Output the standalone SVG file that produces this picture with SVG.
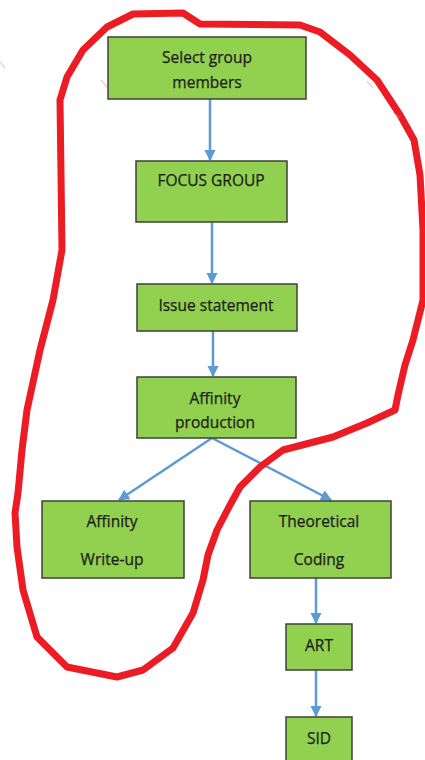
<svg xmlns="http://www.w3.org/2000/svg" width="425" height="760" viewBox="0 0 425 760">
  <style>
    .box { fill: #92d050; stroke: #3f3f3f; stroke-width: 1.5; }
    .lbl { font-family: "Open Sans", "Liberation Sans", sans-serif; font-size: 15.5px; fill: #1c1c1c; stroke: #1c1c1c; stroke-width: 0.25; text-anchor: middle; }
    .conn { stroke: #5b9bd5; stroke-width: 2.5; fill: none; marker-end: url(#arrow); }
    .loop { stroke: #ec1c24; stroke-width: 7; fill: none; stroke-linejoin: round; stroke-linecap: round; }
    .tick { stroke: #f08080; stroke-width: 1; opacity: 0.7; }
  </style>
  <defs>
    <marker id="arrow" viewBox="0 0 10 10" refX="9" refY="5" markerWidth="4.5" markerHeight="4.5" markerUnits="strokeWidth" orient="auto">
      <path d="M0,0 L10,5 L0,10 z" fill="#5b9bd5"/>
    </marker>
  </defs>
  <rect width="425" height="760" fill="#ffffff"/>

  <!-- connectors -->
  <g id="connectors">
    <line class="conn" x1="210" y1="99" x2="210" y2="160"/>
    <line class="conn" x1="212" y1="222" x2="212" y2="283"/>
    <line class="conn" x1="213" y1="331" x2="213" y2="376"/>
    <line class="conn" x1="212" y1="438" x2="119" y2="500"/>
    <line class="conn" x1="212" y1="438" x2="331" y2="500"/>
    <line class="conn" x1="316" y1="578" x2="316" y2="623"/>
    <line class="conn" x1="316" y1="670" x2="316" y2="716"/>
  </g>

  <!-- nodes -->
  <g id="select">
    <rect class="box" x="108" y="37" width="198" height="62"/>
    <text class="lbl" x="207" y="63">Select group</text>
    <text class="lbl" x="207" y="88">members</text>
  </g>
  <g id="focus">
    <rect class="box" x="136" y="161" width="151" height="61"/>
    <text class="lbl" x="211" y="186">FOCUS GROUP</text>
  </g>
  <g id="issue">
    <rect class="box" x="137" y="284" width="160" height="47"/>
    <text class="lbl" x="216" y="311">Issue statement</text>
  </g>
  <g id="affinity-production">
    <rect class="box" x="137" y="377" width="159" height="61"/>
    <text class="lbl" x="215" y="404">Affinity</text>
    <text class="lbl" x="215" y="428">production</text>
  </g>
  <g id="affinity-writeup">
    <rect class="box" x="42" y="501" width="142" height="77"/>
    <text class="lbl" x="112" y="527">Affinity</text>
    <text class="lbl" x="112" y="565">Write-up</text>
  </g>
  <g id="theoretical-coding">
    <rect class="box" x="250" y="501" width="141" height="77"/>
    <text class="lbl" x="319" y="527">Theoretical</text>
    <text class="lbl" x="319" y="565">Coding</text>
  </g>
  <g id="art">
    <rect class="box" x="286" y="624" width="66" height="46"/>
    <text class="lbl" x="319" y="651">ART</text>
  </g>
  <g id="sid">
    <rect class="box" x="286" y="717" width="66" height="50"/>
    <text class="lbl" x="319" y="744">SID</text>
  </g>

  <!-- hand-drawn red outline -->
  <path class="loop" d="M133,14 L183,13 L200,24 L300,25 L320,32 L350,55 L377,80 L400,115 L414,140 L420,175 L423,230 L423,300 L413,340 L405,365 L398,395 L395,410 L367,423 L333,437 L283,450 L260,467 L240,487 L230,505 L217,530 L208,555 L203,580 L193,613 L173,648 L143,670 L117,677 L67,667 L37,637 L23,590 L17,547 L15,513 L18,493 L22,450 L27,410 L40,350 L53,300 L62,250 L61,175 L60,100 L67,77 L83,50 L107,27 Z"/>
  <line class="tick" x1="0" y1="62" x2="5" y2="68"/>
  <line class="tick" x1="101" y1="80" x2="107" y2="87"/>
  <line class="tick" x1="367" y1="81" x2="373" y2="88"/>
  <line class="tick" x1="393" y1="112" x2="400" y2="118"/>
</svg>
